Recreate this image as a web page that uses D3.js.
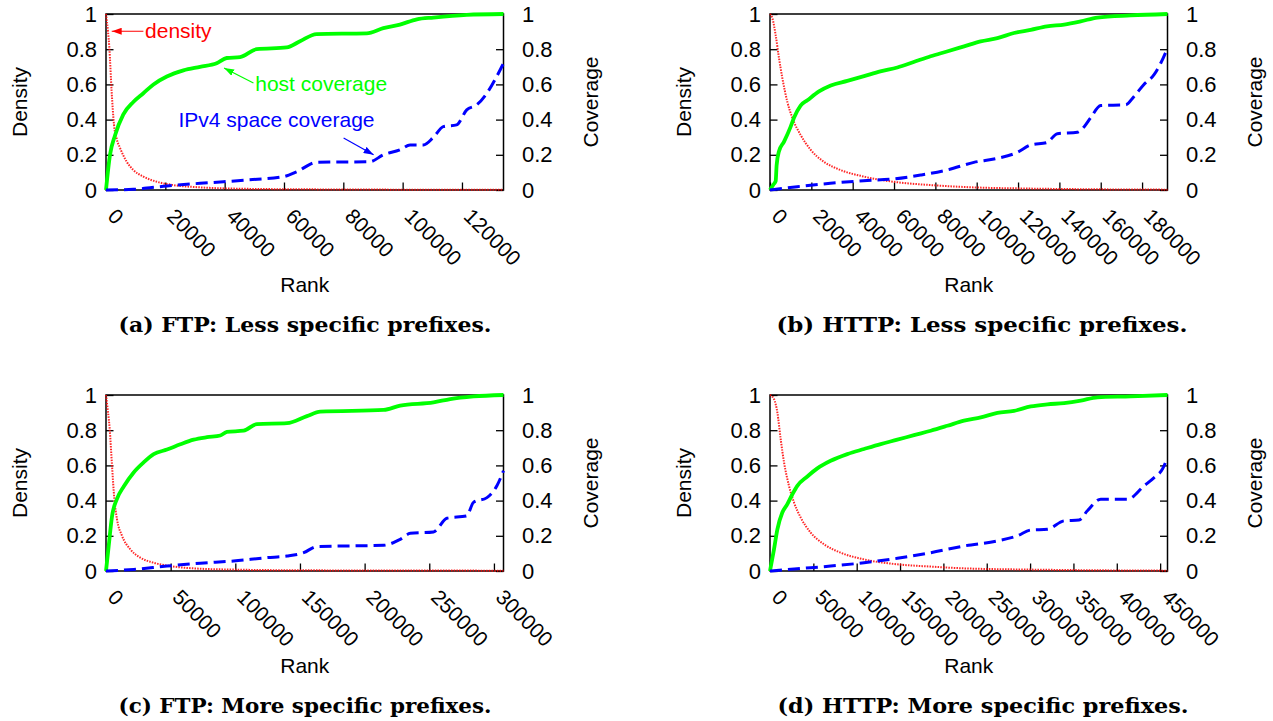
<!DOCTYPE html>
<html>
<head>
<meta charset="utf-8">
<script src="https://cdn.jsdelivr.net/npm/d3@7"></script>
<style>
  body { margin: 0; background: white; }
  text { font-family: "Liberation Sans", Arial, Helvetica, sans-serif; }
</style>
</head>
<body>
<div id="container"></div>
<script>
/* DATA ###################################################### */
// [rank, value] pairs

// (a) FTP: less specific prefixes
const ftpLessDensity = [[0, 1], [675, 0.9], [1124, 0.81], [1900, 0.56], [2700, 0.37], [3600, 0.29], [4700, 0.24], [7000, 0.16], [9200, 0.114], [12600, 0.076], [17100, 0.047], [22700, 0.028], [31700, 0.015], [42900, 0.008], [65400, 0.004], [134000, 0.001]];
const ftpLessHost = [[0, 0], [1350, 0.2], [3030, 0.31], [5850, 0.43], [9200, 0.5], [12600, 0.55], [16000, 0.6], [20500, 0.645], [26100, 0.68], [31700, 0.7], [37300, 0.72], [40700, 0.75], [45200, 0.755], [50800, 0.8], [60900, 0.81], [65400, 0.845], [71000, 0.886], [87900, 0.89], [93500, 0.92], [99100, 0.94], [104800, 0.97], [110400, 0.98], [121600, 0.995], [134000, 1]];
const ftpLessIpv4 = [[0, 0], [9200, 0.004], [20500, 0.023], [31700, 0.038], [39600, 0.047], [47400, 0.057], [59800, 0.076], [64300, 0.104], [71000, 0.157], [89000, 0.161], [93500, 0.2], [99100, 0.228], [102500, 0.256], [107000, 0.256], [110400, 0.3], [113700, 0.36], [118200, 0.37], [121600, 0.455], [125000, 0.484], [128400, 0.55], [131700, 0.645], [134000, 0.72]];

// (b) HTTP: less specific prefixes
const httpLessDensity = [[0, 1], [1130, 0.977], [2740, 0.88], [4350, 0.75], [5970, 0.636], [8400, 0.5], [10800, 0.41], [14800, 0.313], [19700, 0.228], [26000, 0.161], [34000, 0.114], [45500, 0.076], [61600, 0.044], [77700, 0.028], [93900, 0.017], [126100, 0.008], [158400, 0.004], [192300, 0.002]];
const httpLessHost = [[0, 0], [1600, 0.03], [2740, 0.05], [3200, 0.14], [4350, 0.22], [6800, 0.275], [10000, 0.36], [11600, 0.41], [14800, 0.48], [18100, 0.51], [23700, 0.56], [29400, 0.594], [37400, 0.62], [45500, 0.647], [53400, 0.674], [61600, 0.696], [69500, 0.727], [77700, 0.76], [85600, 0.787], [93900, 0.816], [101900, 0.844], [110000, 0.863], [118000, 0.892], [126100, 0.91], [134000, 0.93], [142300, 0.94], [150300, 0.958], [158400, 0.98], [174400, 0.992], [192300, 1]];
const httpLessIpv4 = [[0, 0], [13200, 0.019], [29200, 0.038], [45300, 0.053], [60000, 0.063], [72900, 0.085], [85800, 0.114], [98600, 0.157], [110000, 0.18], [119700, 0.214], [126100, 0.256], [134000, 0.27], [139000, 0.32], [148700, 0.328], [152000, 0.36], [155100, 0.41], [160000, 0.48], [172100, 0.484], [176000, 0.53], [180900, 0.6], [185800, 0.655], [189000, 0.72], [192300, 0.806]];

// (c) FTP: more specific prefixes
const ftpMoreDensity = [[0, 1], [1290, 0.92], [2830, 0.81], [4640, 0.6], [6440, 0.41], [8500, 0.294], [12400, 0.2], [18800, 0.123], [26500, 0.076], [36900, 0.047], [49700, 0.028], [72900, 0.013], [98700, 0.008], [150200, 0.004], [307400, 0.002]];
const ftpMoreHost = [[0, 0], [2060, 0.14], [4640, 0.31], [8500, 0.41], [13700, 0.48], [21400, 0.56], [29100, 0.617], [36900, 0.664], [47200, 0.69], [57500, 0.72], [67800, 0.746], [78100, 0.76], [88400, 0.77], [93500, 0.79], [106400, 0.797], [116700, 0.835], [140000, 0.84], [155400, 0.88], [165700, 0.905], [214700, 0.915], [227500, 0.94], [253300, 0.958], [266200, 0.977], [284200, 0.992], [307400, 1]];
const ftpMoreIpv4 = [[0, 0], [21400, 0.009], [47200, 0.028], [72900, 0.044], [98700, 0.057], [124500, 0.076], [140000, 0.085], [152800, 0.104], [163100, 0.139], [214700, 0.146], [227500, 0.18], [235300, 0.214], [253300, 0.222], [263600, 0.3], [279000, 0.313], [284200, 0.39], [294600, 0.417], [302300, 0.484], [307400, 0.57]];

// (d) HTTP: more specific prefixes
const httpMoreDensity = [[0, 1], [4600, 0.977], [8500, 0.9], [12300, 0.75], [16200, 0.617], [21900, 0.484], [27700, 0.389], [35400, 0.304], [46900, 0.218], [62300, 0.152], [81500, 0.104], [108500, 0.066], [146900, 0.038], [185400, 0.025], [223800, 0.015], [300800, 0.008], [377700, 0.004], [458500, 0.002]];
const httpMoreHost = [[0, 0], [4600, 0.123], [8500, 0.237], [14200, 0.332], [20000, 0.38], [25800, 0.436], [31500, 0.484], [43100, 0.537], [54600, 0.583], [70000, 0.626], [89200, 0.664], [108500, 0.693], [127700, 0.721], [146900, 0.746], [166100, 0.772], [185400, 0.797], [204600, 0.825], [223800, 0.854], [243100, 0.873], [262300, 0.898], [281500, 0.91], [300800, 0.935], [320000, 0.947], [339200, 0.954], [358500, 0.968], [377700, 0.987], [416100, 0.992], [458500, 1]];
const httpMoreIpv4 = [[0, 0], [31500, 0.013], [70000, 0.028], [108500, 0.047], [146900, 0.072], [185400, 0.104], [223800, 0.142], [262300, 0.171], [285400, 0.2], [300800, 0.233], [320000, 0.237], [339200, 0.285], [356500, 0.29], [366100, 0.342], [381500, 0.408], [412300, 0.408], [431500, 0.484], [443100, 0.531], [452700, 0.579], [458500, 0.645]];

// axis extents and tick labels
const rankMax = [134000, 192300, 307400, 458500];
const rankTicks = [
  [0, 20000, 40000, 60000, 80000, 100000, 120000],
  [0, 20000, 40000, 60000, 80000, 100000, 120000, 140000, 160000, 180000],
  [0, 50000, 100000, 150000, 200000, 250000, 300000],
  [0, 50000, 100000, 150000, 200000, 250000, 300000, 350000, 400000, 450000],
];
const valueTicks = [0, 0.2, 0.4, 0.6, 0.8, 1];
const captions = [
  "(a) FTP: Less specific prefixes.",
  "(b) HTTP: Less specific prefixes.",
  "(c) FTP: More specific prefixes.",
  "(d) HTTP: More specific prefixes.",
];

// annotation labels in panel (a), positions in rank/value units
const notes = [
  { text: "density", color: "red", at: [13160, 0.866], from: [12600, 0.902], to: [1920, 0.902] },
  { text: "host coverage", color: "lime", at: [50300, 0.561], from: [49700, 0.608], to: [39800, 0.693] },
  { text: "IPv4 space coverage", color: "blue", at: [24400, 0.358], from: [80100, 0.295], to: [90200, 0.2] },
];

/* LAYOUT ##################################################### */
const W = 1273, H = 721;
const plotW = 397.5, plotH = 176;
const panels = [
  { density: ftpLessDensity, host: ftpLessHost, ipv4: ftpLessIpv4, left: 106, top: 14, capX: 305 },
  { density: httpLessDensity, host: httpLessHost, ipv4: httpLessIpv4, left: 770, top: 14, capX: 982 },
  { density: ftpMoreDensity, host: ftpMoreHost, ipv4: ftpMoreIpv4, left: 106, top: 395, capX: 305 },
  { density: httpMoreDensity, host: httpMoreHost, ipv4: httpMoreIpv4, left: 770, top: 395, capX: 983 },
];

const svg = d3
  .select("#container")
  .append("svg")
  .attr("width", W)
  .attr("height", H)
  .style("background-color", "white");

// arrow heads
const defs = svg.append("defs");
["red", "lime", "blue"].forEach((c) => {
  defs
    .append("marker")
    .attr("id", "head-" + c)
    .attr("viewBox", "0 0 10 7")
    .attr("refX", 10)
    .attr("refY", 3.5)
    .attr("markerUnits", "userSpaceOnUse")
    .attr("markerWidth", 10)
    .attr("markerHeight", 7)
    .attr("orient", "auto")
    .append("path")
    .attr("d", "M0,0L10,3.5L0,7z")
    .attr("fill", c);
});

const fontSize = 21;
const tickFont = 22;

panels.forEach((p, i) => {
  const g = svg.append("g").attr("transform", `translate(${p.left},${p.top})`);

  const x = d3.scaleLinear().domain([0, rankMax[i]]).range([0, plotW]);
  const y = d3.scaleLinear().domain([0, 1]).range([plotH, 0]);

  // frame
  g.append("rect")
    .attr("width", plotW)
    .attr("height", plotH)
    .attr("fill", "none")
    .attr("stroke", "black")
    .attr("stroke-width", 1.5);

  // AXES ----------------------------------------------------
  const xAxis = g
    .append("g")
    .attr("transform", `translate(0,${plotH})`)
    .call(d3.axisBottom(x).tickValues(rankTicks[i]).tickSize(-7.5).tickFormat(d3.format("d")));
  xAxis.select(".domain").remove();
  xAxis.selectAll("line").attr("stroke-width", 1.3);
  xAxis
    .selectAll("text")
    .attr("y", 0)
    .attr("dy", null)
    .attr("text-anchor", "start")
    .attr("transform", "translate(0,27.5) rotate(45)")
    .attr("font-size", fontSize)
    .attr("font-family", null)
    .attr("fill", "black");

  const yLeft = g
    .append("g")
    .call(d3.axisLeft(y).tickValues(valueTicks).tickSize(-7.5).tickPadding(9).tickFormat(d3.format("~g")));
  yLeft.select(".domain").remove();
  yLeft.selectAll("line").attr("stroke-width", 1.3);
  yLeft.selectAll("text").attr("font-size", tickFont).attr("font-family", null).attr("fill", "black");

  const yRight = g
    .append("g")
    .attr("transform", `translate(${plotW},0)`)
    .call(d3.axisRight(y).tickValues(valueTicks).tickSize(-7.5).tickPadding(18.5).tickFormat(d3.format("~g")));
  yRight.select(".domain").remove();
  yRight.selectAll("line").attr("stroke-width", 1.3);
  yRight.selectAll("text").attr("font-size", tickFont).attr("font-family", null).attr("fill", "black");

  // AXIS LABELS ---------------------------------------------
  g.append("text")
    .attr("transform", `translate(-79,${plotH / 2}) rotate(-90)`)
    .attr("text-anchor", "middle")
    .attr("font-size", fontSize)
    .text("Density");

  g.append("text")
    .attr("transform", `translate(${plotW + 94},${plotH / 2}) rotate(-90)`)
    .attr("text-anchor", "middle")
    .attr("font-size", fontSize)
    .text("Coverage");

  g.append("text")
    .attr("x", plotW / 2)
    .attr("y", plotH + 102)
    .attr("text-anchor", "middle")
    .attr("font-size", fontSize)
    .text("Rank");

  // LINES ---------------------------------------------------
  const line = d3
    .line()
    .x((d) => x(d[0]))
    .y((d) => y(d[1]))
    .curve(d3.curveMonotoneX);

  g.append("path")
    .attr("d", line(p.density))
    .attr("fill", "none")
    .attr("stroke", "red")
    .attr("stroke-width", 2)
    .attr("stroke-opacity", 0.85)
    .attr("stroke-dasharray", "1.5,1.2");

  g.append("path")
    .attr("d", line(p.host))
    .attr("fill", "none")
    .attr("stroke", "lime")
    .attr("stroke-width", 3.8);

  g.append("path")
    .attr("d", line(p.ipv4))
    .attr("fill", "none")
    .attr("stroke", "blue")
    .attr("stroke-width", 3)
    .attr("stroke-dasharray", "12,6");

  // ANNOTATIONS (only panel a) ------------------------------
  if (i === 0) {
    notes.forEach((n) => {
      g.append("line")
        .attr("x1", x(n.from[0]))
        .attr("y1", y(n.from[1]))
        .attr("x2", x(n.to[0]))
        .attr("y2", y(n.to[1]))
        .attr("stroke", n.color)
        .attr("stroke-width", 1.2)
        .attr("marker-end", `url(#head-${n.color})`);
      g.append("text")
        .attr("x", x(n.at[0]))
        .attr("y", y(n.at[1]))
        .attr("font-size", fontSize)
        .attr("fill", n.color)
        .text(n.text);
    });
  }

  // CAPTION -------------------------------------------------
  svg
    .append("text")
    .attr("x", p.capX)
    .attr("y", p.top + 318)
    .attr("text-anchor", "middle")
    .attr("textLength", i % 2 ? 411 : 373)
    .attr("lengthAdjust", "spacingAndGlyphs")
    .style("font-family", '"DejaVu Serif", "Liberation Serif", serif')
    .style("font-weight", "bold")
    .style("font-size", "19.5px")
    .text(captions[i]);
});
</script>
</body>
</html>
